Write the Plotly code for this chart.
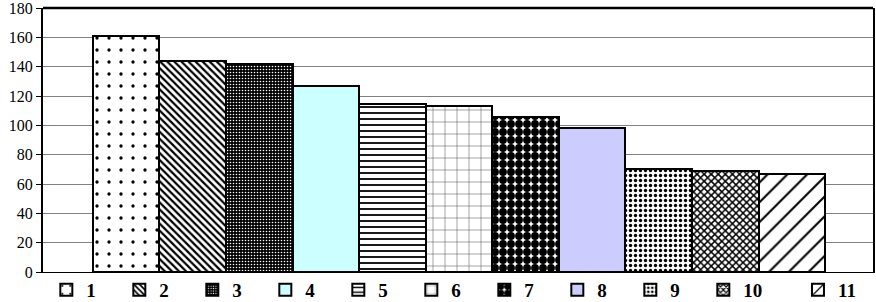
import plotly.graph_objects as go

categories = ["1", "2", "3", "4", "5", "6", "7", "8", "9", "10", "11"]
values = [161, 144, 142, 127, 114.5, 113.5, 106, 98, 70, 69, 66.5]
y_ticks = [0, 20, 40, 60, 80, 100, 120, 140, 160, 180]

# style per bar: (background color, pattern shape, fgcolor, size, solidity)
styles = [
    ("white", ".", "black", 12, 0.06),
    ("white", "\\", "black", 5, 0.45),
    ("black", ".", "white", 3, 0.22),
    ("#CCFFFF", "", "black", 8, 0.3),
    ("white", "-", "black", 6, 0.3),
    ("white", "+", "#444444", 12, 0.08),
    ("white", ".", "black", 8, 0.75),
    ("#CCCCFF", "", "black", 8, 0.3),
    ("white", ".", "black", 5, 0.35),
    ("white", "x", "black", 5, 0.5),
    ("white", "/", "black", 14, 0.15),
]

SERIF = "Liberation Serif, Times New Roman, serif"

fig = go.Figure()
for i, (cat, val, (col, shp, fg, sz, sol)) in enumerate(zip(categories, values, styles)):
    pat = dict(shape=shp, fgcolor=fg, bgcolor=col, size=sz, solidity=sol,
               fillmode="replace") if shp else dict(shape="")
    fig.add_trace(go.Bar(
        x=[cat], y=[val], name=cat, width=1,
        legend="legend2" if i == len(categories) - 1 else "legend",
        marker=dict(color=col, line=dict(color="black", width=2), pattern=pat),
    ))

legend_font = dict(family=SERIF, size=19, color="black", weight="bold")
fig.update_layout(
    width=876, height=302,
    margin=dict(l=43, r=3, t=8, b=30, autoexpand=False),
    paper_bgcolor="white", plot_bgcolor="white",
    barmode="overlay", bargap=0,
    font=dict(family=SERIF, color="black", size=16),
    showlegend=True,
    legend=dict(orientation="h", x=0.004, xanchor="left", y=-0.068, yanchor="middle",
                font=legend_font, entrywidth=28, itemwidth=30,
                bgcolor="rgba(0,0,0,0)", traceorder="normal"),
    legend2=dict(orientation="h", x=0.9096, xanchor="left", y=-0.068, yanchor="middle",
                 font=legend_font, itemwidth=30, bgcolor="rgba(0,0,0,0)"),
    xaxis=dict(type="category", categoryorder="array", categoryarray=categories,
               range=[-1.25, 11.22], showticklabels=False, ticks="",
               showgrid=False, showline=True, linecolor="black", linewidth=1,
               zeroline=False),
    yaxis=dict(range=[0, 180], tickvals=y_ticks, ticks="outside", ticklen=5,
               tickcolor="black", showgrid=True, gridcolor="#808080", gridwidth=1,
               showline=True, linecolor="black", linewidth=2, mirror=True,
               zeroline=False, ticklabeloverflow="allow",
               tickfont=dict(family=SERIF, size=16)),
    shapes=[dict(type="line", xref="paper", yref="paper", x0=0, x1=1, y0=1, y1=1,
                 line=dict(color="black", width=2.5))],
)

fig.write_html("out.html", config={"displayModeBar": False},
               post_script="document.body.style.margin='0';document.body.style.overflow='hidden';")
